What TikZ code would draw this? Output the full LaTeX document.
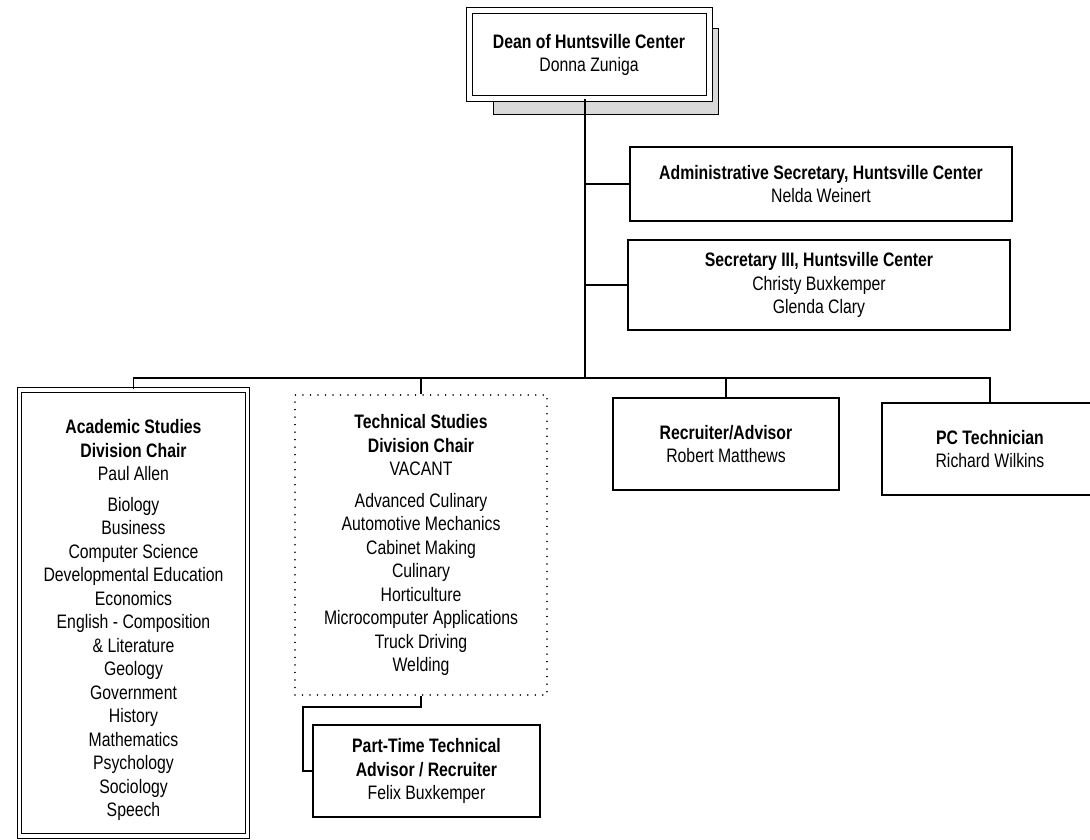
\documentclass[tikz,border=0pt]{standalone}
\usepackage{fontspec}
\setmainfont{Liberation Sans}[FakeStretch=0.81]
\begin{document}
\begin{tikzpicture}[x=1pt,y=-1pt,
  every node/.style={font=\fontsize{19.5}{23.5}\selectfont},
  orgbox/.style={draw, line width=1.2pt, fill=white, align=center, inner sep=0pt},
  dblbox/.style={orgbox, double, double distance=4pt, line width=1pt},
  dotbox/.style={orgbox, line width=1.6pt, dash pattern=on 0.01pt off 7.5pt, line cap=round},
  conn/.style={line width=1.2pt}]
\clip (0,0) rectangle (1090,840);
\fill[white] (0,0) rectangle (1090,840);
% shadow of dean box
\node[draw, line width=0.9pt, fill=gray!30, minimum width=225pt, minimum height=86pt, inner sep=0pt] (shadow) at (605.5,71) {};
\node[orgbox, double, double distance=5pt, line width=1pt, minimum width=240pt, minimum height=88pt] (dean) at (589,55)
  {\textbf{Dean of Huntsville Center}\\Donna Zuniga};
\node[orgbox, minimum width=382pt, minimum height=74pt] (admin) at (821,184)
  {\textbf{Administrative Secretary, Huntsville Center}\\Nelda Weinert};
\node[orgbox, minimum width=382pt, minimum height=90pt] (sec) at (819,285)
  {\textbf{Secretary III, Huntsville Center}\\Christy Buxkemper\\Glenda Clary};
\node[dblbox, double distance=3.5pt, minimum width=228pt, minimum height=446pt] (acad) at (133.5,612.75) {};
\node[align=center, inner sep=0pt] (acadtext) at (133.5,620)
  {\textbf{Academic Studies}\\\textbf{Division Chair}\\Paul Allen\\[7pt]
   Biology\\Business\\Computer Science\\Developmental Education\\Economics\\English - Composition\\\& Literature\\Geology\\Government\\History\\Mathematics\\Psychology\\Sociology\\Speech};
\node[dotbox, minimum width=252pt, minimum height=300pt] (tech) at (421,545)
  {\textbf{Technical Studies}\\\textbf{Division Chair}\\VACANT\\[8pt]
   Advanced Culinary\\Automotive Mechanics\\Cabinet Making\\Culinary\\Horticulture\\Microcomputer Applications\\Truck Driving\\Welding};
\node[orgbox, minimum width=226pt, minimum height=92pt] (rec) at (726,444)
  {\textbf{Recruiter/Advisor}\\Robert Matthews};
\node[orgbox, minimum width=216pt, minimum height=92pt] (pc) at (990,449)
  {\textbf{PC Technician}\\Richard Wilkins};
\node[orgbox, minimum width=227pt, minimum height=92pt] (pt) at (426.5,771)
  {\textbf{Part-Time Technical}\\\textbf{Advisor / Recruiter}\\Felix Buxkemper};
% connectors
\coordinate (bar) at (585,378);
\coordinate (elbow) at (303,707);
\draw[conn] (dean.south -| bar) -- (bar);
\draw[conn] (admin.west) -- (admin.west -| bar);
\draw[conn] (sec.west) -- (sec.west -| bar);
\draw[conn] (acad.north) |- (bar) -| (pc.north);
\draw[conn] (tech.north) -- (tech.north |- bar);
\draw[conn] (rec.north) -- (rec.north |- bar);
\draw[conn] (tech.south) |- (elbow) |- (pt.west);
\end{tikzpicture}
\end{document}
